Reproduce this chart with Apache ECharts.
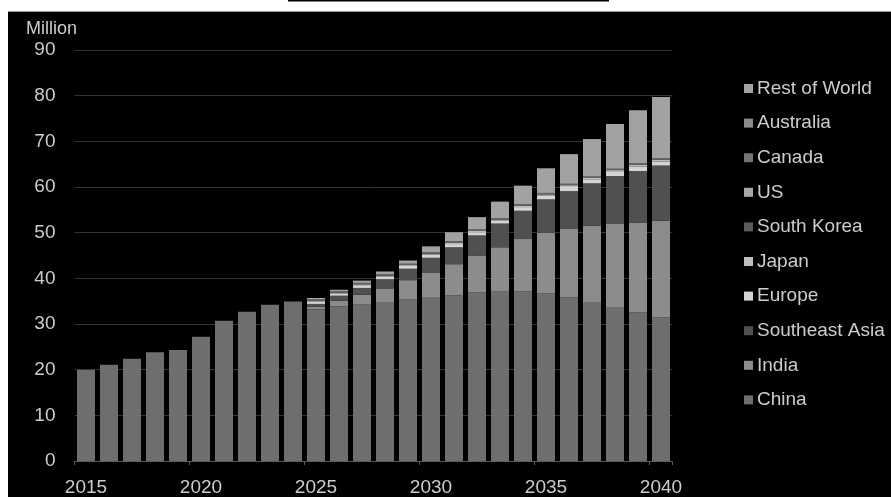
<!DOCTYPE html>
<html>
<head>
<meta charset="utf-8">
<script src="https://cdn.jsdelivr.net/npm/echarts@6/dist/echarts.min.js"></script>
<style>
html,body{margin:0;padding:0;background:#fff;}
#chart{width:891px;height:497px;}
</style>
</head>
<body>
<div id="chart"></div>
<script>
const years = ['2015','2016','2017','2018','2019','2020','2021','2022','2023','2024','2025','2026','2027','2028','2029','2030','2031','2032','2033','2034','2035','2036','2037','2038','2039','2040'];
const china         = [19.9,21.1,22.4,23.8,24.3,27.2,30.7,32.7,34.2,34.9,33.2,33.9,34.3,34.8,35.4,35.9,36.3,36.9,37.1,37.1,36.7,35.8,34.8,33.7,32.5,31.4];
const india         = [0,0,0,0,0,0,0,0,0,0,0.6,1.2,2.1,3.0,4.2,5.4,6.8,8.1,9.7,11.5,13.3,15.0,16.7,18.2,19.7,21.2];
const southeastAsia = [0,0,0,0,0,0,0,0,0,0,0.6,1.1,1.5,2.0,2.5,3.2,3.7,4.4,5.2,6.2,7.3,8.3,9.3,10.5,11.3,12.1];
const europe        = [0,0,0,0,0,0,0,0,0,0,0.5,0.5,0.6,0.6,0.6,0.7,0.7,0.7,0.6,0.8,0.8,0.9,0.9,0.9,1.0,0.9];
const japan         = [0,0,0,0,0,0,0,0,0,0,0.2,0.2,0.2,0.2,0.2,0.2,0.3,0.3,0.3,0.3,0.3,0.4,0.3,0.4,0.4,0.4];
const southKorea    = [0,0,0,0,0,0,0,0,0,0,0.1,0.1,0.1,0.1,0.1,0.1,0.1,0.1,0.1,0.1,0.1,0.1,0.1,0.1,0.1,0.1];
const us            = [0,0,0,0,0,0,0,0,0,0,0.1,0.1,0.1,0.1,0.1,0.1,0.1,0.1,0.1,0.1,0.1,0.1,0.1,0.1,0.1,0.1];
const canada        = [0,0,0,0,0,0,0,0,0,0,0.05,0.05,0.05,0.05,0.05,0.05,0.05,0.05,0.05,0.05,0.05,0.05,0.05,0.05,0.05,0.05];
const australia     = [0,0,0,0,0,0,0,0,0,0,0.05,0.05,0.05,0.05,0.05,0.05,0.05,0.05,0.05,0.05,0.05,0.05,0.05,0.05,0.05,0.05];
const restOfWorld   = [0,0,0,0,0,0,0,0,0,0,0.3,0.3,0.5,0.6,0.7,1.3,2.0,2.7,3.6,4.1,5.4,6.5,8.2,9.8,11.6,13.4];

const seriesDefs = [
  ['China', china, '#6e6e6e'],
  ['India', india, '#8c8c8c'],
  ['Southeast Asia', southeastAsia, '#505050'],
  ['Europe', europe, '#d4d4d4'],
  ['Japan', japan, '#bdbdbd'],
  ['South Korea', southKorea, '#5a5a5a'],
  ['US', us, '#a8a8a8'],
  ['Canada', canada, '#737373'],
  ['Australia', australia, '#8a8a8a'],
  ['Rest of World', restOfWorld, '#a2a2a2']
];
const legendOrder = ['Rest of World','Australia','Canada','US','South Korea','Japan','Europe','Southeast Asia','India','China'];

const chart = echarts.init(document.getElementById('chart'), null, {renderer:'canvas'});
const txt = '#cccccc';
const ff = 'Liberation Sans, Arial, sans-serif';
chart.setOption({
  backgroundColor: '#000',
  animation: false,
  textStyle: {fontFamily: ff},
  title: {text: 'Million', left: 21, top: 15, textStyle: {color: txt, fontSize: 18, fontWeight: 'normal', fontFamily: ff}},
  grid: {left: 74.5, right: 218.5, top: 50, bottom: 34},
  legend: {
    data: legendOrder, orient: 'vertical', left: 739, top: 74,
    itemWidth: 9, itemHeight: 9, itemGap: 15.6, icon: 'rect',
    textStyle: {color: txt, fontSize: 19, fontFamily: ff, padding: [0,0,0,-1]}
  },
  xAxis: {
    type: 'category', data: years, boundaryGap: true,
    axisLine: {lineStyle: {color: '#5a5a5a'}},
    axisTick: {show: true, length: 4, lineStyle: {color: '#5a5a5a'}},
    axisLabel: {interval: 4, color: txt, fontSize: 19, margin: 17, fontFamily: ff}
  },
  yAxis: {
    type: 'value', min: 0, max: 90, interval: 10,
    axisLabel: {color: txt, fontSize: 19, margin: 19, fontFamily: ff},
    splitLine: {lineStyle: {color: '#333333'}},
    axisLine: {show: false}, axisTick: {show: false}
  },
  series: seriesDefs.map(([name, data, color]) => ({
    name, type: 'bar', stack: 'total', data, barWidth: 18,
    itemStyle: {color}
  })),
  graphic: [
    {type: 'rect', left: 0, top: 0, shape: {width: 891, height: 11}, style: {fill: '#fff'}, z: 100},
    {type: 'rect', left: 0, top: 0, shape: {width: 8, height: 497}, style: {fill: '#fff'}, z: 100},
    {type: 'rect', left: 288, top: 0, shape: {width: 321, height: 1.5}, style: {fill: '#000'}, z: 101},
    {type: 'rect', left: 8, top: 11, shape: {width: 883, height: 1}, style: {fill: '#999'}, z: 101}
  ]
});
</script>
</body>
</html>
